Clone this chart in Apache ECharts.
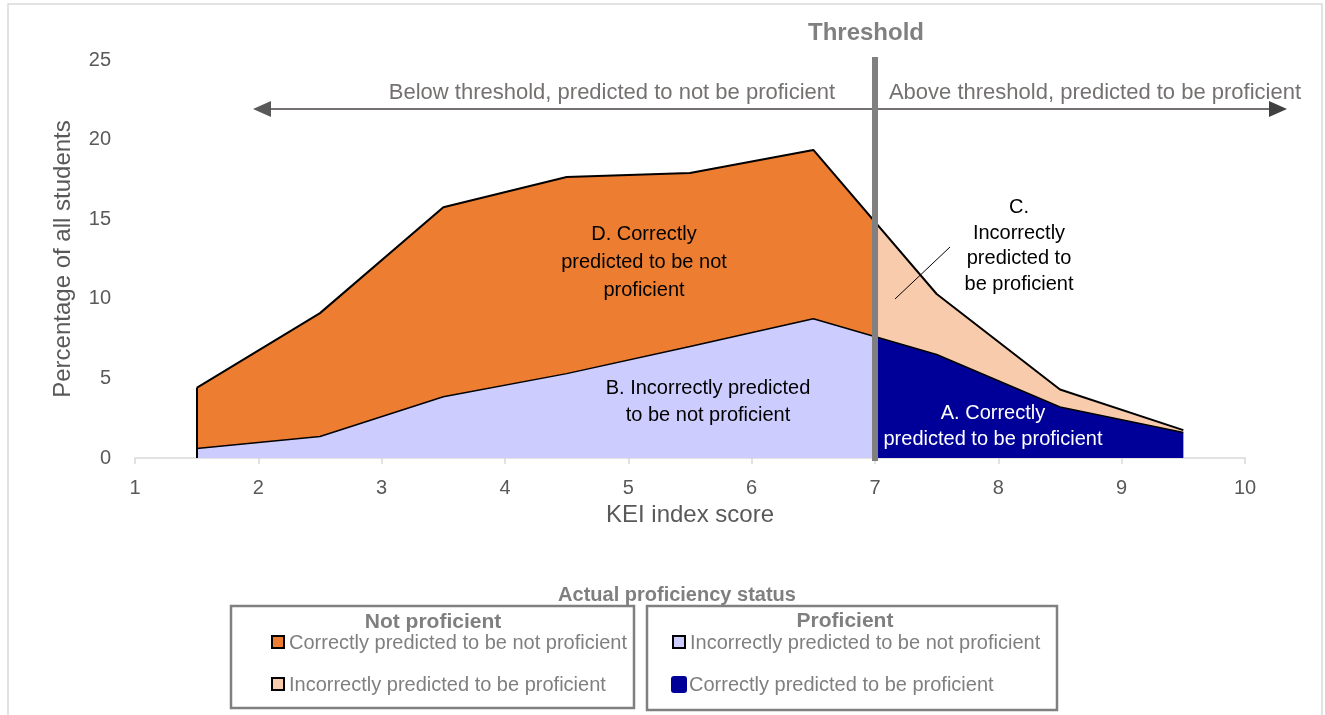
<!DOCTYPE html>
<html>
<head>
<meta charset="utf-8">
<title>KEI index score</title>
<script src="https://cdn.jsdelivr.net/npm/echarts@6/dist/echarts.min.js"></script>
<style>
  html, body { margin: 0; padding: 0; background: #fff; }
  #chart { width: 1325px; height: 715px; }
</style>
</head>
<body>
<div id="chart"></div>
<script>
// KEI index score, middle of each bin
var keiScores = [1.5, 2.5, 3.5, 4.5, 5.5, 6.5, 7.5, 8.5, 9.5];
// percentage of all students in the bin (top edge of the shape)
var allStudents = [4.4, 9.1, 15.75, 17.65, 17.9, 19.35, 10.3, 4.3, 1.75];
// percentage of all students in the bin who are actually proficient
var proficientStudents = [0.6, 1.35, 3.85, 5.3, 7.0, 8.75, 6.5, 3.2, 1.6];
var threshold = 7;

var FONT = '"Liberation Sans", Arial, sans-serif';
var GREY = '#7f7f7f';
var AXIS_GREY = '#595959';

var allData = keiScores.map(function (x, i) { return [x, allStudents[i]]; });
var profData = keiScores.map(function (x, i) { return [x, proficientStudents[i]]; });

// where the threshold falls inside the area's box (the area spans first..last score)
var cut = (threshold - keiScores[0]) / (keiScores[keiScores.length - 1] - keiScores[0]);

function splitFill (left, right) {
  return new echarts.graphic.LinearGradient(0, 0, 1, 0, [
    { offset: 0, color: left },
    { offset: cut, color: left },
    { offset: cut, color: right },
    { offset: 1, color: right }
  ]);
}

function label (txt, x, y, size, color, bold, lh) {
  return {
    type: 'text', x: x, y: y, silent: true, z: 20,
    style: {
      text: txt,
      fill: color,
      font: (bold ? 'bold ' : '') + size + 'px ' + FONT,
      align: 'center', verticalAlign: 'middle',
      textAlign: 'center', textVerticalAlign: 'middle',
      lineHeight: lh || size
    }
  };
}

function legendItem (x, y, color, txt, border) {
  return [
    {
      type: 'rect', silent: true, z: 20,
      shape: border ? { x: x, y: y - 6, width: 12, height: 12 } : { x: x - 1, y: y - 8, width: 16, height: 17, r: 3 },
      style: { fill: color, stroke: border ? '#000' : null, lineWidth: 2 }
    },
    {
      type: 'text', x: x + 17, y: y + 1, silent: true, z: 20,
      style: {
        text: txt, fill: GREY, font: '20px ' + FONT,
        align: 'left', verticalAlign: 'middle',
        textAlign: 'left', textVerticalAlign: 'middle'
      }
    }
  ];
}

var chart = echarts.init(document.getElementById('chart'));

var graphics = [
  // outer frame
  { type: 'rect', silent: true, shape: { x: 8, y: 4, width: 1314, height: 720 },
    style: { fill: 'none', stroke: '#d9d9d9', lineWidth: 1.5 } },
  label('Threshold', 866, 33, 24, '#808080', true),
  // arrows
  { type: 'line', silent: true, shape: { x1: 262, y1: 109, x2: 1278, y2: 109 },
    style: { stroke: '#767171', lineWidth: 2 } },
  { type: 'polygon', silent: true, shape: { points: [[253, 109], [271, 101], [271, 117]] },
    style: { fill: '#595959' } },
  { type: 'polygon', silent: true, shape: { points: [[1287, 109], [1269, 101], [1269, 117]] },
    style: { fill: '#404040' } },
  label('Below threshold, predicted to not be proficient', 612, 93, 22, '#767171'),
  label('Above threshold, predicted to be proficient', 1095, 93, 22, '#767171'),
  // area labels
  label('D. Correctly\npredicted to be not\nproficient', 644, 262, 20, '#000', false, 28),
  label('B. Incorrectly predicted\nto be not proficient', 708, 402, 20, '#000', false, 27),
  label('A. Correctly\npredicted to be proficient', 993, 426, 20, '#fff', false, 26),
  label('C.\nIncorrectly\npredicted to\nbe proficient', 1019, 246, 20, '#000', false, 25.5),
  { type: 'line', silent: true, z: 20, shape: { x1: 895, y1: 299, x2: 950, y2: 247 },
    style: { stroke: '#000', lineWidth: 1 } },
  // legend
  label('Actual proficiency status', 677, 595, 20, GREY, true),
  { type: 'rect', silent: true, shape: { x: 231, y: 606, width: 403, height: 102 },
    style: { fill: '#fff', stroke: '#808080', lineWidth: 2.5 } },
  { type: 'rect', silent: true, shape: { x: 647, y: 606, width: 410, height: 104 },
    style: { fill: '#fff', stroke: '#808080', lineWidth: 2.5 } },
  label('Not proficient', 433, 622, 21, GREY, true),
  label('Proficient', 845, 621, 21, GREY, true)
]
  .concat(legendItem(272, 642, '#ED7D31', 'Correctly predicted to be not proficient', true))
  .concat(legendItem(272, 684, '#F8CBAD', 'Incorrectly predicted to be proficient', true))
  .concat(legendItem(673, 642, '#CCCCFF', 'Incorrectly predicted to be not proficient', true))
  .concat(legendItem(672, 684, '#000099', 'Correctly predicted to be proficient', false));

chart.setOption({
  animation: false,
  textStyle: { fontFamily: FONT },
  grid: { left: 135, right: 80, top: 60, bottom: 257 },
  xAxis: {
    type: 'value', min: 1, max: 10, interval: 1,
    name: 'KEI index score', nameLocation: 'middle', nameGap: 45,
    nameTextStyle: { fontSize: 24, color: AXIS_GREY },
    axisLine: { lineStyle: { color: '#d9d9d9', width: 1.5 } },
    axisTick: { show: true, length: 6, lineStyle: { color: '#d9d9d9', width: 1.5 } },
    axisLabel: { fontSize: 20, color: AXIS_GREY, margin: 20 },
    splitLine: { show: false }
  },
  yAxis: {
    type: 'value', min: 0, max: 25, interval: 5,
    name: 'Percentage of all students', nameLocation: 'middle', nameGap: 60,
    nameTextStyle: { fontSize: 24, color: AXIS_GREY },
    axisLine: { show: false },
    axisTick: { show: false },
    axisLabel: { fontSize: 20, color: AXIS_GREY, margin: 24 },
    splitLine: { show: false }
  },
  series: [
    {
      name: 'Not proficient',
      type: 'line',
      data: allData,
      symbol: 'none',
      z: 2,
      lineStyle: { color: '#000', width: 2 },
      areaStyle: { opacity: 1, color: splitFill('#ED7D31', '#F8CBAD') },
      markLine: {
        silent: true, symbol: ['none', 'none'], label: { show: false },
        lineStyle: { color: '#000', width: 2, type: 'solid' },
        data: [[{ coord: [keiScores[0], 0] }, { coord: [keiScores[0], allStudents[0]] }]]
      }
    },
    {
      name: 'Proficient',
      type: 'line',
      data: profData,
      symbol: 'none',
      z: 3,
      lineStyle: { color: '#000', width: 1.5 },
      areaStyle: { opacity: 1, color: splitFill('#CCCCFF', '#000099') },
      markLine: {
        silent: true, symbol: ['none', 'none'], label: { show: false },
        lineStyle: { color: '#808080', width: 6, type: 'solid', cap: 'square' },
        data: [[{ coord: [threshold, 0] }, { coord: [threshold, 25] }]]
      }
    }
  ],
  graphic: graphics
});
</script>
</body>
</html>
